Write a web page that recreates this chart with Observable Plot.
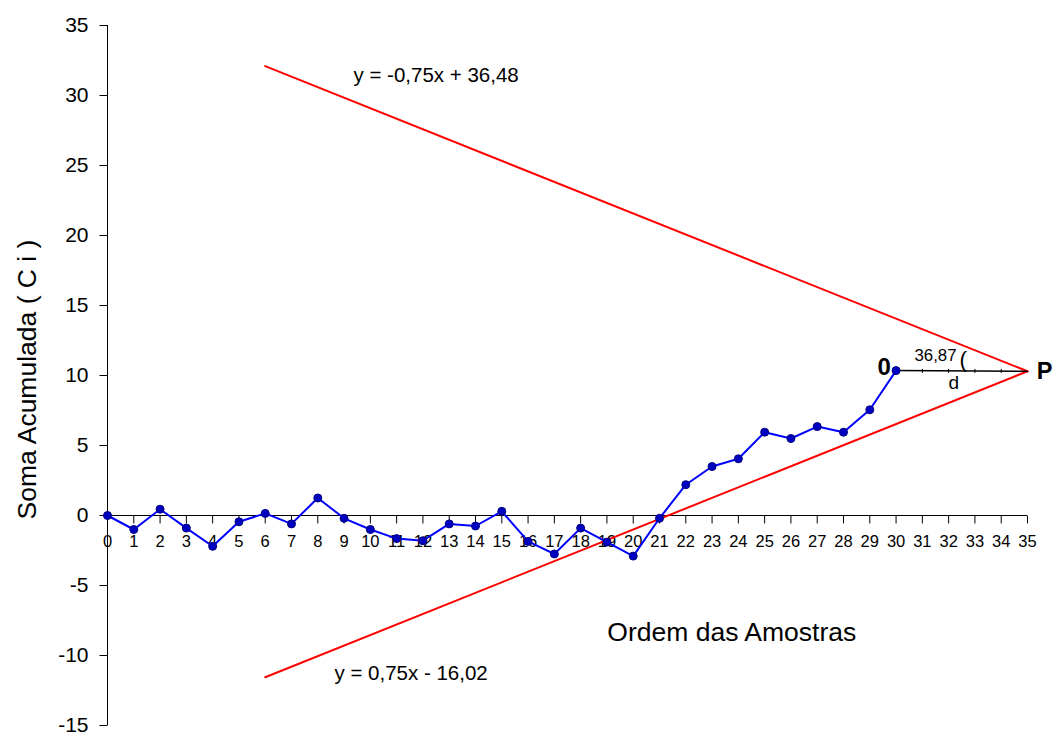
<!DOCTYPE html>
<html>
<head>
<meta charset="utf-8">
<script src="https://cdn.jsdelivr.net/npm/d3@7"></script>
<script src="https://cdn.jsdelivr.net/npm/@observablehq/plot@0.6"></script>
<style>
  html, body { margin: 0; padding: 0; background: #fff; }
  #chart { width: 1055px; height: 736px; }
</style>
</head>
<body>
<div id="chart"></div>
<script>
// Sample order (x) and cumulative sum (Ci)
const samples = [0,1,2,3,4,5,6,7,8,9,10,11,12,13,14,15,16,17,18,19,20,21,22,23,24,25,26,27,28,29,30];
const cumSum  = [0,-1.0,0.45,-0.9,-2.2,-0.45,0.15,-0.6,1.25,-0.2,-1.0,-1.65,-1.8,-0.6,-0.75,0.3,-1.85,-2.75,-0.9,-1.9,-2.9,-0.2,2.2,3.5,4.05,5.95,5.5,6.35,5.95,7.55,10.35];

// V-mask arms (endpoints)
const maskX     = [6, 35];
const upperArm  = [32.1, 10.3];
const lowerArm  = [-11.55, 10.3];

// horizontal distance d from point O to vertex P
const dX = [30, 35];
const dY = [10.35, 10.3];
const dMarks = [31, 32, 33, 34];

const xTicks = d3.range(0, 36);
const yTicks = [-15,-10,-5,0,5,10,15,20,25,30,35];

const upperLabel = "y = -0,75x + 36,48";
const lowerLabel = "y = 0,75x - 16,02";
const xTitle = "Ordem das Amostras";
const yTitle = "Soma Acumulada ( C i )";

const pts = samples.map((x, i) => ({x, y: cumSum[i]}));
const upper = maskX.map((x, i) => ({x, y: upperArm[i]}));
const lower = maskX.map((x, i) => ({x, y: lowerArm[i]}));
const dLine = dX.map((x, i) => ({x, y: dY[i]}));

const xTickSymbol = { draw(ctx) { ctx.moveTo(0, 0); ctx.lineTo(0, 8); } };
const yTickSymbol = { draw(ctx) { ctx.moveTo(0, 0); ctx.lineTo(-8, 0); } };
const notchSymbol = { draw(ctx) { ctx.moveTo(0, -2); ctx.lineTo(0, 2); } };

const font = "'Liberation Sans', Arial, sans-serif";

const plot = Plot.plot({
  width: 1055,
  height: 736,
  marginLeft: 107,
  marginRight: 28,
  marginTop: 25,
  marginBottom: 11,
  style: { fontFamily: font, background: "#fff", color: "#000" },
  x: { domain: [0, 35], axis: null },
  y: { domain: [-15, 35], axis: null },
  marks: [
    Plot.ruleX([0], { stroke: "#000", strokeWidth: 1 }),
    Plot.ruleY([0], { stroke: "#000", strokeWidth: 1 }),
    Plot.dot(yTicks, { x: () => 0, y: d => d, symbol: yTickSymbol, stroke: "#000", fill: "none", strokeWidth: 1 }),
    Plot.text(yTicks, { x: () => 0, y: d => d, text: d => String(d), textAnchor: "end", dx: -19, fontSize: 21, fill: "#000" }),
    Plot.dot(xTicks, { x: d => d, y: () => 0, symbol: xTickSymbol, stroke: "#000", fill: "none", strokeWidth: 1 }),
    Plot.text(xTicks, { x: d => d, y: () => 0, text: d => String(d), dy: 26, fontSize: 16.5, fill: "#000" }),
    Plot.line(upper, { x: "x", y: "y", stroke: "#ff0000", strokeWidth: 2 }),
    Plot.line(lower, { x: "x", y: "y", stroke: "#ff0000", strokeWidth: 2 }),
    Plot.line(dLine, { x: "x", y: "y", stroke: "#000", strokeWidth: 1.5 }),
    Plot.dot(dMarks, { x: d => d, y: () => 10.33, symbol: notchSymbol, stroke: "#000", fill: "none", strokeWidth: 1 }),
    Plot.line(pts, { x: "x", y: "y", stroke: "#0000ff", strokeWidth: 2 }),
    Plot.dot(pts, { x: "x", y: "y", r: 4, fill: "#0000c0", stroke: "#000080", strokeWidth: 1 }),
    Plot.text([upperLabel], { x: () => 12.5, y: () => 31.4, text: d => d, fontSize: 20.5, fill: "#000" }),
    Plot.text([lowerLabel], { x: () => 11.55, y: () => -11.3, text: d => d, fontSize: 20.5, fill: "#000" }),
    Plot.text([xTitle], { x: () => 23.75, y: () => -8.35, text: d => d, fontSize: 26.5, fill: "#000" }),
    Plot.text([yTitle], { frameAnchor: "left", textAnchor: "middle", rotate: -90, dx: -79.5, dy: 4, text: d => d, fontSize: 26.5, fill: "#000" }),
    Plot.text(["0"], { x: () => 30, y: () => 10.35, text: d => d, dx: -12, dy: -3, fontSize: 24, fontWeight: "bold", fill: "#000" }),
    Plot.text(["P"], { x: () => 35, y: () => 10.3, text: d => d, dx: 17, fontSize: 23.5, fontWeight: "bold", fill: "#000" }),
    Plot.text(["36,87"], { x: () => 31.5, y: () => 11.4, text: d => d, fontSize: 16.8, fill: "#000" }),
    Plot.text(["("], { x: () => 32.55, y: () => 11.1, text: d => d, fontSize: 22, fill: "#000" }),
    Plot.text(["d"], { x: () => 32.2, y: () => 9.5, text: d => d, fontSize: 19, fill: "#000" })
  ]
});
document.getElementById("chart").append(plot);
</script>
</body>
</html>
